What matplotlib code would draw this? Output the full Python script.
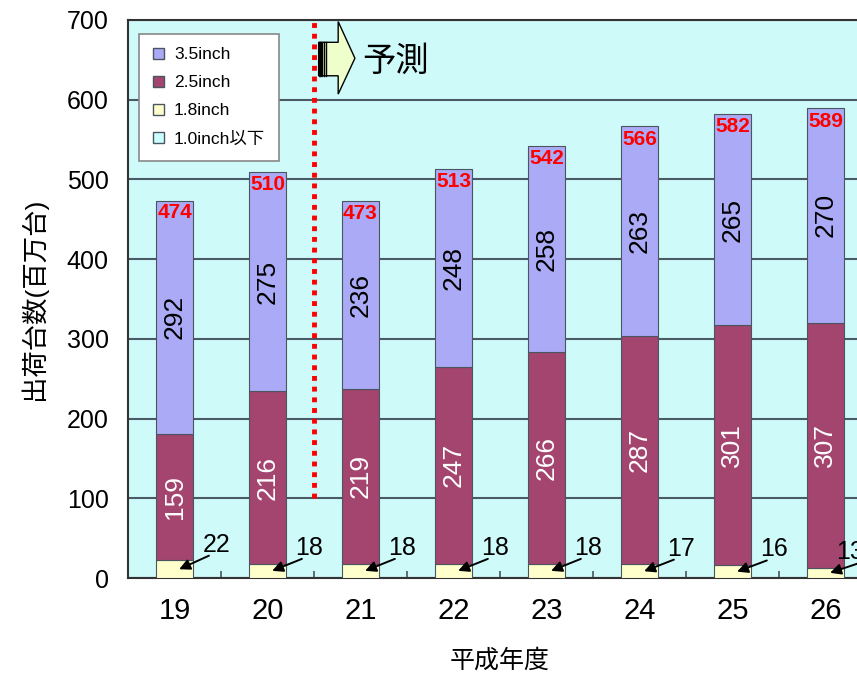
import matplotlib
matplotlib.use("Agg")
import matplotlib.pyplot as plt
from matplotlib.patches import Patch, Polygon, Rectangle

plt.rcParams['font.family'] = ['Liberation Sans', 'Noto Sans CJK JP', 'DejaVu Sans']

# data (百万台)
years = ['19', '20', '21', '22', '23', '24', '25', '26']
inch18 = [22, 18, 18, 18, 18, 17, 16, 13]
inch25 = [159, 216, 219, 247, 266, 287, 301, 307]
inch35 = [292, 275, 236, 248, 258, 263, 265, 270]
inch10 = [0, 0, 0, 0, 0, 0, 0, 0]
totals = [474, 510, 473, 513, 542, 566, 582, 589]

c35 = '#aaaaf6'
c25 = '#a3456f'
c18 = '#ffffcc'
c10 = '#ccffff'
edge = '#4a5560'

fig = plt.figure(figsize=(8.57, 6.75), dpi=100)
ax = fig.add_axes([0.1494, 0.1437, 0.868, 0.8267])
ax.set_facecolor('#cffafa')

x = list(range(len(years)))
w = 0.4
bot25 = [a + b for a, b in zip(inch10, inch18)]
bot35 = [a + b for a, b in zip(bot25, inch25)]
ax.bar(x, inch10, w, color=c10, edgecolor=edge, lw=0.8, zorder=3)
ax.bar(x, inch18, w, bottom=inch10, color=c18, edgecolor=edge, lw=0.8, zorder=3)
ax.bar(x, inch25, w, bottom=bot25, color=c25, edgecolor=edge, lw=0.8, zorder=3)
ax.bar(x, inch35, w, bottom=bot35, color=c35, edgecolor=edge, lw=0.8, zorder=3)

for i in x:
    ax.text(i, bot35[i] + inch35[i] / 2, str(inch35[i]), rotation=90,
            ha='center', va='center', fontsize=19, color='black', zorder=4)
    ax.text(i, bot25[i] + inch25[i] / 2, str(inch25[i]), rotation=90,
            ha='center', va='center', fontsize=19, color='white', zorder=4)
    ax.text(i, totals[i] - 16, str(totals[i]), ha='center', va='center',
            fontsize=15, fontweight='bold', color='red', zorder=4)
    # 1.8inch labels with arrows
    ax.annotate('', xy=(i + 0.05, inch18[i] / 2), xytext=(i + 0.37, inch18[i] + 6),
                arrowprops=dict(arrowstyle='-|>', color='black', lw=1.4,
                                mutation_scale=16, shrinkA=0, shrinkB=0),
                zorder=5, annotation_clip=False)
    dx = 0.3 if i < len(x) - 1 else 0.12
    ax.text(i + dx, inch18[i] + 20, str(inch18[i]), ha='left', va='center',
            fontsize=18, zorder=5, clip_on=False)

ax.set_xlim(-0.5, 7.5)
ax.set_ylim(0, 700)
ax.set_yticks(range(0, 701, 100))
ax.set_xticks(x)
ax.set_xticklabels(years)
ax.set_xticks([i + 0.5 for i in x], minor=True)
ax.tick_params(axis='x', which='major', length=0, pad=14, labelsize=21)
ax.tick_params(axis='x', which='minor', direction='in', length=5, color=edge, width=1.2)
ax.tick_params(axis='y', length=0, pad=14, labelsize=18)
ax.yaxis.grid(True, color='#4a5a66', lw=1.5, zorder=1)
for s in ax.spines.values():
    s.set_color('#333333')
    s.set_linewidth(1.5)

ax.set_ylabel('出荷台数(百万台)', fontsize=19, labelpad=14)
ax.set_xlabel('平成年度', fontsize=18, labelpad=17)

# 予測 divider
ax.plot([1.5, 1.5], [100, 700], color='red', lw=3.5, ls=(0, (1, 1.2)), zorder=6)
arrow = Polygon([(1.55, 630), (1.76, 630), (1.76, 607), (1.94, 652),
                 (1.76, 698), (1.76, 672), (1.55, 672)], closed=True,
                facecolor='#eeffcc', edgecolor='black', lw=1.0, zorder=6)
ax.add_patch(arrow)
ax.add_patch(Rectangle((1.55, 630), 0.035, 42, color='black', zorder=7))
for xs in (1.605, 1.625):
    ax.plot([xs, xs], [630, 672], color='black', lw=1.0, zorder=7)
ax.text(2.02, 647, '予測', fontsize=24, ha='left', va='center', zorder=7)

handles = [Patch(facecolor=c35, edgecolor=edge), Patch(facecolor=c25, edgecolor=edge),
           Patch(facecolor=c18, edgecolor=edge), Patch(facecolor=c10, edgecolor=edge)]
labels = ['3.5inch', '2.5inch', '1.8inch', '1.0inch以下']
leg = ax.legend(handles, labels, loc='upper left', bbox_to_anchor=(0.008, 0.985),
                fontsize=12.5, handlelength=0.6, handleheight=0.6, handletextpad=0.6,
                labelspacing=0.75, borderpad=0.8, borderaxespad=0.3, fancybox=False,
                framealpha=1, edgecolor='#888888')
leg.get_frame().set_linewidth(1.2)
leg.set_zorder(8)

fig.savefig('out.png', dpi=100)
